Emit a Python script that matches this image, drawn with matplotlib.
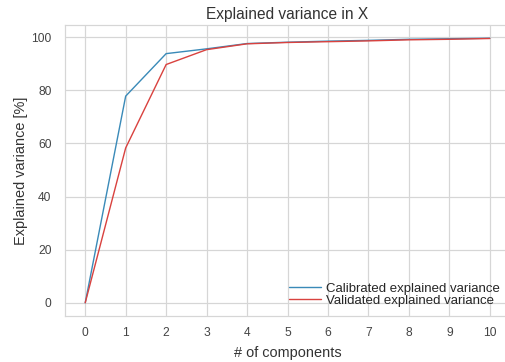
import matplotlib
matplotlib.use('Agg')
import matplotlib.pyplot as plt
import seaborn as sns
import numpy as np

n_components = list(range(0, 11))
cal_var = [0, 77.8, 93.8, 95.6, 97.6, 98.1, 98.5, 98.8, 99.2, 99.4, 99.6]
val_var = [0, 58.3, 89.7, 95.3, 97.5, 98.0, 98.3, 98.6, 99.0, 99.2, 99.5]
tick_labels = [str(i) for i in n_components]

sns.set_style('whitegrid')
plt.rcParams['font.family'] = ['Liberation Sans', 'DejaVu Sans']

fig = plt.figure(figsize=(505 / 72, 362 / 72), dpi=72)
ax = fig.add_axes([65 / 505, 1 - 316 / 362, 445 / 505, 291 / 362])

ax.plot(n_components, cal_var, color='#3a8ab8', lw=1.4, label='Calibrated explained variance')
ax.plot(n_components, val_var, color='#d9423f', lw=1.4, label='Validated explained variance')

ax.set_xticks(n_components)
ax.set_xticklabels(tick_labels)
ax.tick_params(labelsize=12, colors='#444444')
ax.tick_params(axis='x', pad=8)
ax.tick_params(axis='y', pad=10)
ax.grid(color='#d6d6d6', lw=1.2)
for s in ax.spines.values():
    s.set_color('#d6d6d6')
    s.set_linewidth(1.2)
ax.set_xlabel('# of components', fontsize=14.5, color='#333333', labelpad=6)
ax.set_ylabel('Explained variance [%]', fontsize=14.5, color='#333333', labelpad=3)
ax.set_title('Explained variance in X', fontsize=15.5, color='#333333')
ax.legend(loc='lower right', fontsize=13.3, frameon=False, handlelength=2.4,
          handletextpad=0.4, borderaxespad=0, borderpad=0, labelspacing=0.0,
          bbox_to_anchor=(500 / 505, 1 - 307 / 362), bbox_transform=fig.transFigure)

fig.savefig('out.png', dpi=72)
